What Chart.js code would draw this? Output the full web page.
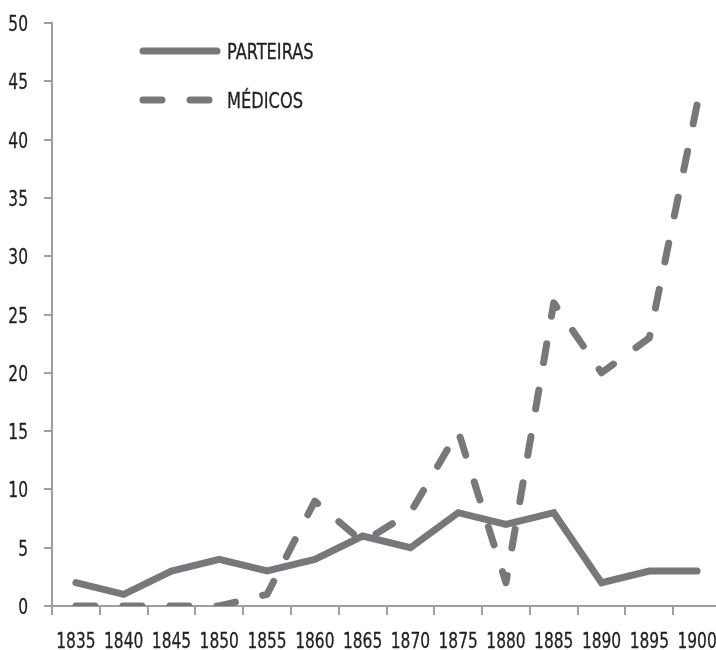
<!DOCTYPE html>
<html>
<head>
<meta charset="utf-8">
<script src="https://cdn.jsdelivr.net/npm/chart.js@4.4.0/dist/chart.umd.min.js"></script>
<style>
  body { margin: 0; overflow: hidden; background: #fff; }
</style>
</head>
<body>
<canvas id="grafico" width="740" height="650"></canvas>
<script>
var anos = ['1835', '1840', '1845', '1850', '1855', '1860', '1865', '1870', '1875', '1880', '1885', '1890', '1895', '1900'];
var parteiras = [2, 1, 3, 4, 3, 4, 6, 5, 8, 7, 8, 2, 3, 3];
var medicos = [0, 0, 0, 0, 1, 9, 5.5, 8, 15, 2, 26, 20, 23, 43];
var yTicks = [0, 5, 10, 15, 20, 25, 30, 35, 40, 45, 50];

var cinza = '#77787b';
var corTexto = '#231f20';
var fonteTexto = 'condensed 22px "DejaVu Sans", sans-serif';

// a fonte original e bem condensada, entao aperta na horizontal
function textoEstreito(ctx, txt, x, y, align, escala) {
  ctx.save();
  ctx.translate(x, y);
  ctx.scale(escala, 1);
  ctx.textAlign = align;
  ctx.lineWidth = 0.3;
  ctx.strokeStyle = corTexto;
  ctx.fillText(txt, 0, 0);
  ctx.strokeText(txt, 0, 0);
  ctx.restore();
}

// rotulos dos eixos
var rotulosPlugin = {
  id: 'rotulos',
  afterDraw: function(chart) {
    var ctx = chart.ctx;
    var sx = chart.scales.x;
    var sy = chart.scales.y;
    ctx.save();
    ctx.fillStyle = corTexto;
    ctx.font = fonteTexto;
    ctx.textBaseline = 'alphabetic';
    sx.ticks.forEach(function(t, i) {
      textoEstreito(ctx, chart.data.labels[i], sx.getPixelForTick(i), 648, 'center', 0.78);
    });
    sy.ticks.forEach(function(t) {
      textoEstreito(ctx, String(t.value), 28, sy.getPixelForValue(t.value) + 8, 'right', 0.78);
    });
    ctx.restore();
  }
};

// legenda dentro da area do grafico
var legendaPlugin = {
  id: 'legenda',
  afterDraw: function(chart) {
    var ctx = chart.ctx;
    chart.data.datasets.forEach(function(ds, i) {
      var y = 51 + i * 49;
      ctx.save();
      ctx.strokeStyle = ds.borderColor;
      ctx.lineWidth = ds.borderWidth;
      ctx.lineCap = 'round';
      ctx.setLineDash(ds.borderDash || []);
      ctx.beginPath();
      ctx.moveTo(143, y);
      ctx.lineTo(217, y);
      ctx.stroke();
      ctx.setLineDash([]);
      ctx.fillStyle = corTexto;
      ctx.font = fonteTexto;
      ctx.textBaseline = 'alphabetic';
      textoEstreito(ctx, ds.label, 227, y + 8, 'left', 0.82);
      ctx.restore();
    });
  }
};

new Chart(document.getElementById('grafico'), {
  type: 'line',
  data: {
    labels: anos,
    datasets: [{
      label: 'PARTEIRAS',
      data: parteiras,
      borderColor: cinza,
      borderWidth: 7,
      borderCapStyle: 'round',
      borderJoinStyle: 'miter',
      pointRadius: 0,
      tension: 0,
      fill: false
    },
    {
      label: 'MÉDICOS',
      data: medicos,
      borderColor: cinza,
      borderWidth: 7,
      borderDash: [19, 28],
      borderCapStyle: 'round',
      borderJoinStyle: 'round',
      pointRadius: 0,
      tension: 0,
      fill: false
    }]
  },
  options: {
    responsive: false,
    animation: false,
    layout: { padding: { top: 23, right: 19, left: 0, bottom: 0 } },
    plugins: {
      legend: { display: false },
      tooltip: { enabled: false }
    },
    scales: {
      x: {
        offset: true,
        grid: { offset: true, drawOnChartArea: false, tickLength: 9, color: '#9d9fa2', lineWidth: 2 },
        border: { color: '#9d9fa2', width: 2 },
        ticks: { display: false, autoSkip: false },
        afterFit: function(scale) { scale.height = 44; }
      },
      y: {
        min: 0,
        max: 50,
        afterBuildTicks: function(scale) {
          scale.ticks = yTicks.map(function(v) { return { value: v }; });
        },
        grid: { drawOnChartArea: false, tickLength: 8, color: '#9d9fa2', lineWidth: 2 },
        border: { color: '#9d9fa2', width: 2 },
        ticks: { display: false },
        afterFit: function(scale) { scale.width = 52; }
      }
    }
  },
  plugins: [rotulosPlugin, legendaPlugin]
});
</script>
</body>
</html>
